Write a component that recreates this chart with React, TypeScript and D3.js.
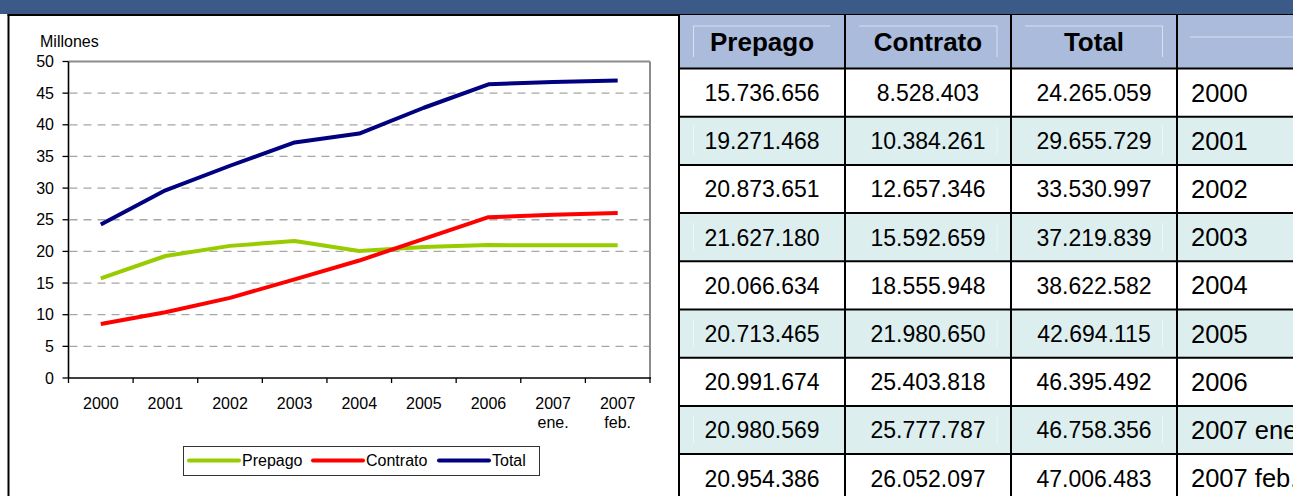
import React from "react";
import * as d3 from "d3";

const categories = ["2000", "2001", "2002", "2003", "2004", "2005", "2006", "2007 ene.", "2007 feb."];
const xTickLines = [["2000"], ["2001"], ["2002"], ["2003"], ["2004"], ["2005"], ["2006"], ["2007", "ene."], ["2007", "feb."]];
const prepago = [15736656, 19271468, 20873651, 21627180, 20066634, 20713465, 20991674, 20980569, 20954386];
const contrato = [8528403, 10384261, 12657346, 15592659, 18555948, 21980650, 25403818, 25777787, 26052097];
const total = [24265059, 29655729, 33530997, 37219839, 38622582, 42694115, 46395492, 46758356, 47006483];
const seriesNames = ["Prepago", "Contrato", "Total"];
const seriesColors = ["#99CC00", "#FF0000", "#000080"];
const tableHeaders = ["Prepago", "Contrato", "Total", ""];
const yAxisTitle = "Millones";

const FONT = "'Liberation Sans', Arial, Helvetica, sans-serif";
const W = 1293;
const H = 496;

const locale = d3.formatLocale({ decimal: ",", thousands: ".", grouping: [3], currency: ["", ""] });
const fmt = locale.format(",d");

export default function App() {
  const series = [prepago, contrato, total];

  const plotL = 68.5, plotR = 650, plotT = 61.5, plotB = 378;
  const x = d3.scaleBand<string>().domain(categories).range([plotL, plotR]).padding(0);
  const y = d3.scaleLinear().domain([0, 50]).range([plotB, plotT]);
  const bw = x.bandwidth();
  const cx = (c: string) => (x(c) as number) + bw / 2;
  const line = d3
    .line<number>()
    .x((_, i) => cx(categories[i]))
    .y((v) => y(v / 1e6));
  const yTicks = y.ticks(10);

  // table geometry
  const colX = [679, 845, 1011, 1177];
  const colW = 166;
  const headTop = 15;
  const rowTop0 = 68.5;
  const rowH = 48.2;

  const legendItems = seriesNames.map((n, i) => ({ name: n, color: seriesColors[i] }));
  const legendLineX = [189, 313, 439];

  return (
    <div style={{ position: "absolute", left: 0, top: 0, width: W, height: H, overflow: "hidden" }}>
      <svg width={W} height={H} viewBox={`0 0 ${W} ${H}`} style={{ display: "block", background: "#fff" }}>
        {/* banner */}
        <rect x={0} y={0} width={W} height={14} fill="#3C5A88" />
        <line x1={7.5} x2={W} y1={15} y2={15} stroke="#000" strokeWidth={2} />
        <line x1={8.5} x2={8.5} y1={14} y2={H} stroke="#000" strokeWidth={2} />

        {/* chart */}
        <g fontFamily={FONT} fontSize={16} fill="#000">
          <text x={40} y={47}>{yAxisTitle}</text>
          {yTicks.map((t) => (
            <g key={t}>
              {t > 0 && t < 50 && (
                <line x1={plotL + 1} x2={plotR} y1={y(t)} y2={y(t)} stroke="#A6A6A6" strokeWidth={1.3} strokeDasharray="8,6" />
              )}
              <line x1={62.5} x2={plotL} y1={y(t)} y2={y(t)} stroke="#000" strokeWidth={1.3} />
              <text x={54} y={y(t)} dy="0.35em" textAnchor="end">{t}</text>
            </g>
          ))}
          {/* plot border */}
          <line x1={plotL} x2={plotR} y1={plotT} y2={plotT} stroke="#8C8C8C" strokeWidth={2} />
          <line x1={plotR} x2={plotR} y1={plotT} y2={plotB} stroke="#8C8C8C" strokeWidth={2} />
          <line x1={plotL} x2={plotL} y1={plotT} y2={plotB} stroke="#000" strokeWidth={1.6} />
          <line x1={plotL} x2={plotR + 1} y1={plotB} y2={plotB} stroke="#000" strokeWidth={1.6} />
          {categories.map((c) => (
            <line key={"tk" + c} x1={x(c) as number} x2={x(c) as number} y1={plotB} y2={plotB + 5} stroke="#000" strokeWidth={1.3} />
          ))}
          <line x1={plotR} x2={plotR} y1={plotB} y2={plotB + 5} stroke="#000" strokeWidth={1.3} />
          {categories.map((c, i) => (
            <text key={"xl" + c} x={cx(c)} y={408.5} textAnchor="middle">
              {xTickLines[i].map((l, j) => (
                <tspan key={j} x={cx(c)} y={408.5 + j * 19.5}>{l}</tspan>
              ))}
            </text>
          ))}
          {series.map((s, i) => (
            <path key={seriesNames[i]} d={line(s) || ""} fill="none" stroke={seriesColors[i]} strokeWidth={4} strokeLinejoin="round" strokeLinecap="butt" />
          ))}
          {/* legend */}
          <rect x={183.5} y={446.5} width={356} height={29} fill="#fff" stroke="#333" strokeWidth={1} />
          {legendItems.map((it, i) => (
            <g key={it.name}>
              <line x1={legendLineX[i]} x2={legendLineX[i] + 50} y1={460.5} y2={460.5} stroke={it.color} strokeWidth={4} strokeLinecap="round" />
              <text x={legendLineX[i] + 53} y={460.5} dy="0.35em">{it.name}</text>
            </g>
          ))}
        </g>

        {/* table */}
        <g fontFamily={FONT}>
          <rect x={colX[0]} y={headTop} width={W - colX[0]} height={rowTop0 - headTop} fill="#AABBDB" />
          {categories.map((c, i) => (
            <rect key={"bg" + c} x={colX[0]} y={rowTop0 + i * rowH} width={W - colX[0]} height={rowH} fill={i % 2 === 1 ? "#DCEEEE" : "#FFFFFF"} />
          ))}
          {/* faint text-box outlines */}
          <g stroke="#FFFFFF" strokeOpacity={0.55} strokeWidth={1} fill="none">
            <polyline points={`693.5,57 693.5,26 830,26`} />
            <polyline points={`859,26 997,26 997,57`} />
            <polyline points={`1025,26 1162.5,26 1162.5,57`} />
            <line x1={1190} x2={W} y1={37} y2={37} />
            {categories.map((c, i) =>
              i % 2 === 1 ? (
                <g key={"fb" + c}>
                  <line x1={693.5} x2={693.5} y1={rowTop0 + i * rowH + 9.5} y2={rowTop0 + (i + 1) * rowH - 11} />
                  <line x1={997} x2={997} y1={rowTop0 + i * rowH + 9.5} y2={rowTop0 + (i + 1) * rowH - 11} />
                  <line x1={1162.5} x2={1162.5} y1={rowTop0 + i * rowH + 9.5} y2={rowTop0 + (i + 1) * rowH - 11} />
                </g>
              ) : null
            )}
          </g>
          {tableHeaders.map((h, j) =>
            h ? (
              <text key={"h" + j} x={colX[j] + colW / 2} y={50.5} textAnchor="middle" fontWeight="bold" fontSize={26} fill="#000">{h}</text>
            ) : null
          )}
          {categories.map((c, i) => {
            const base = rowTop0 + i * rowH + rowH / 2 + 8.4;
            const vals = [prepago[i], contrato[i], total[i]];
            return (
              <g key={"r" + c} fill="#000">
                {vals.map((v, j) => (
                  <text key={j} x={colX[j] + colW / 2} y={base} textAnchor="middle" fontSize={23}>{fmt(v)}</text>
                ))}
                <text x={1191} y={base + 0.5} fontSize={25.5}>{c}</text>
              </g>
            );
          })}
          {/* grid lines */}
          <g stroke="#000" strokeWidth={2}>
            {categories.map((c, i) => (
              <line key={"hl" + c} x1={colX[0]} x2={W} y1={rowTop0 + i * rowH} y2={rowTop0 + i * rowH} />
            ))}
            {colX.map((cxv) => (
              <line key={"vl" + cxv} x1={cxv} x2={cxv} y1={headTop} y2={H} />
            ))}
          </g>
        </g>
      </svg>
    </div>
  );
}
